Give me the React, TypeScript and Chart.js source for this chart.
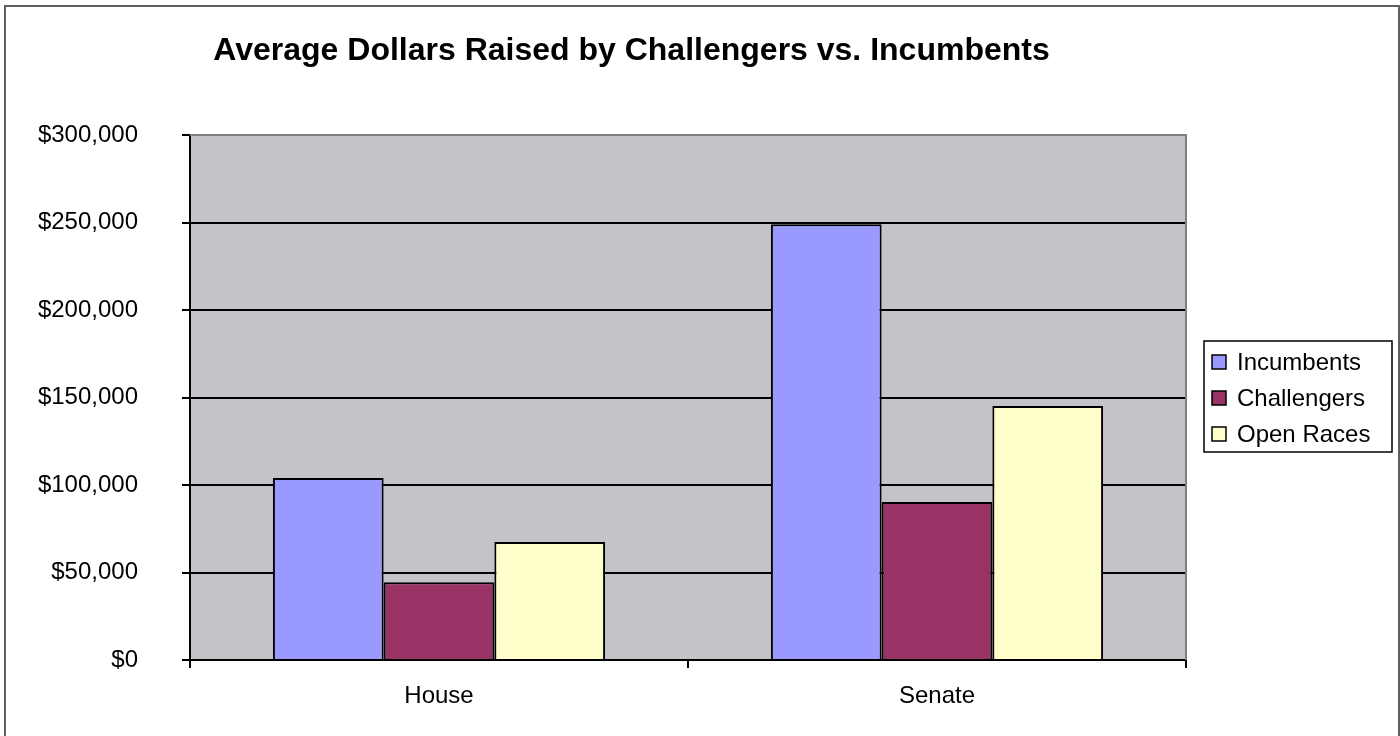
import React, { useEffect, useRef } from "react";
import { Chart, registerables } from "chart.js";

Chart.register(...registerables);

const categories = ["House", "Senate"];
const seriesNames = ["Incumbents", "Challengers", "Open Races"];
const incumbents = [104000, 249000];
const challengers = [44500, 90300];
const openRaces = [67500, 145200];
const seriesColors = ["#9999FF", "#993366", "#FFFFCC"];
const yMax = 300000;
const yStep = 50000;
const chartTitle = "Average Dollars Raised by Challengers vs. Incumbents";

const FONT = "'Liberation Sans', Arial, sans-serif";

const decorPlugin = {
  id: "decor",
  beforeDraw(chart: any) {
    const { ctx, chartArea: a } = chart;
    ctx.save();
    ctx.fillStyle = "#C5C3C7";
    ctx.fillRect(a.left, a.top, a.right - a.left, a.bottom - a.top);
    ctx.restore();
  },
  afterDraw(chart: any) {
    const { ctx, chartArea: a } = chart;
    ctx.save();
    // plot-area border (top & right, gray)
    ctx.strokeStyle = "#808080";
    ctx.lineWidth = 2;
    ctx.beginPath();
    ctx.moveTo(a.left, a.top);
    ctx.lineTo(a.right, a.top);
    ctx.lineTo(a.right, a.bottom);
    ctx.stroke();

    // title
    ctx.fillStyle = "#000";
    ctx.font = `bold 32px ${FONT}`;
    ctx.textAlign = "center";
    ctx.textBaseline = "alphabetic";
    ctx.fillText(chartTitle, 631.5, 60);

    // legend
    const lx = 1204, ly = 341, lw = 188, lh = 111;
    ctx.fillStyle = "#fff";
    ctx.fillRect(lx, ly, lw, lh);
    ctx.strokeStyle = "#000";
    ctx.lineWidth = 1.5;
    ctx.strokeRect(lx, ly, lw, lh);
    ctx.font = `24px ${FONT}`;
    ctx.textAlign = "left";
    ctx.textBaseline = "middle";
    chart.data.datasets.forEach((ds: any, i: number) => {
      const cy = 362 + i * 36;
      ctx.fillStyle = ds.backgroundColor;
      ctx.fillRect(1212, cy - 7, 14, 14);
      ctx.strokeStyle = "#000";
      ctx.lineWidth = 1.5;
      ctx.strokeRect(1212, cy - 7, 14, 14);
      ctx.fillStyle = "#000";
      ctx.fillText(ds.label, 1237, cy + 1);
    });
    ctx.restore();
  },
};

export default function App() {
  const ref = useRef<HTMLCanvasElement | null>(null);

  useEffect(() => {
    if (!ref.current) return;
    const seriesValues = [incumbents, challengers, openRaces];
    const chart = new Chart(ref.current, {
      type: "bar",
      data: {
        labels: categories,
        datasets: seriesNames.map((name, i) => ({
          label: name,
          data: seriesValues[i],
          backgroundColor: seriesColors[i],
          borderColor: "#000",
          borderWidth: 2,
          categoryPercentage: 0.667,
          barPercentage: 1,
        })),
      },
      options: {
        responsive: false,
        animation: false,
        events: [],
        layout: { padding: { top: 135, right: 214, bottom: 0, left: 0 } },
        plugins: {
          legend: { display: false },
          title: { display: false },
          tooltip: { enabled: false },
        },
        scales: {
          x: {
            afterFit: (s: any) => {
              s.height = 76;
            },
            grid: {
              drawOnChartArea: false,
              drawTicks: true,
              tickLength: 8,
              color: "#000",
              lineWidth: 2,
              offset: true,
            },
            border: { color: "#000", width: 2 },
            ticks: {
              color: "#000",
              padding: 14,
              font: { family: FONT, size: 24 },
            },
          },
          y: {
            min: 0,
            max: yMax,
            afterFit: (s: any) => {
              s.width = 190;
            },
            grid: {
              color: (c: any) => (c.tick && c.tick.value === yMax ? "#808080" : "#000"),
              tickColor: "#000",
              lineWidth: 2,
              tickLength: 8,
            },
            border: { color: "#000", width: 2 },
            ticks: {
              stepSize: yStep,
              color: "#000",
              padding: 44,
              font: { family: FONT, size: 24 },
              callback: (v: any) => "$" + Number(v).toLocaleString("en-US"),
            },
          },
        },
      },
      plugins: [decorPlugin],
    });
    return () => chart.destroy();
  }, []);

  return (
    <div style={{ position: "absolute", left: 0, top: 0, width: 1400, height: 736, overflow: "hidden", background: "#fff" }}>
      <canvas ref={ref} width={1400} height={736} style={{ display: "block" }} />
      <div
        style={{
          position: "absolute",
          left: 4,
          top: 5,
          width: 1392,
          height: 760,
          border: "2px solid #5f5f5f",
          pointerEvents: "none",
        }}
      />
    </div>
  );
}
